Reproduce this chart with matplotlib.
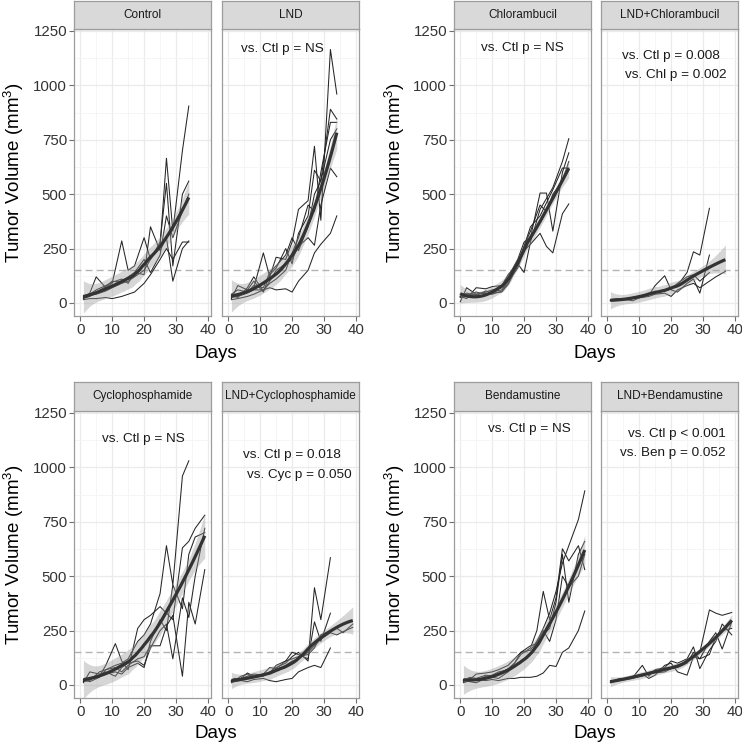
import matplotlib
matplotlib.use('Agg')
import matplotlib.pyplot as plt
import numpy as np

plt.rcParams['font.family'] = ['Liberation Sans', 'DejaVu Sans']
plt.rcParams['mathtext.default'] = 'regular'

# tumour volumes per mouse
control_days = [1, 3, 5, 8, 10, 13, 15, 17, 20, 22, 25, 27, 29, 32, 34]
control_vol = [
    [25, 35, 40, 55, 70, 90, 100, 120, 150, 200, 260, 665, 330, 700, 905],
    [30, 45, 120, 70, 90, 285, 150, 170, 300, 200, 280, 550, 170, 500, 560],
    [20, 30, 50, 75, 100, 95, 120, 140, 130, 350, 240, 300, 100, 250, 285],
    [15, 20, 20, 25, 20, 30, 40, 50, 90, 130, 200, 250, 200, 280, 280],
    [35, 40, 60, 80, 95, 110, 90, 140, 200, 140, 220, 400, 300, 420, 500],
]

lnd_days = [1, 3, 6, 8, 11, 13, 15, 18, 20, 22, 25, 27, 29, 32, 34]
lnd_vol = [
    [30, 40, 55, 70, 230, 120, 210, 200, 280, 430, 470, 720, 380, 1165, 960],
    [20, 80, 60, 100, 50, 130, 160, 250, 180, 320, 400, 610, 560, 890, 845],
    [25, 30, 45, 60, 60, 90, 110, 150, 230, 300, 450, 420, 600, 830, 830],
    [35, 25, 70, 120, 55, 100, 150, 180, 200, 260, 300, 265, 450, 620, 580],
    [15, 20, 30, 40, 60, 70, 60, 65, 50, 100, 150, 230, 270, 320, 400],
    [40, 60, 50, 80, 70, 140, 170, 220, 300, 240, 350, 500, 560, 750, 800],
]

chl_days = [0, 2, 5, 8, 10, 13, 15, 18, 20, 22, 25, 27, 29, 32, 34]
chl_vol = [
    [5, 70, 40, 50, 60, 70, 120, 200, 280, 300, 505, 505, 330, 600, 690],
    [30, 20, 70, 65, 75, 80, 130, 180, 140, 280, 430, 480, 530, 650, 755],
    [40, 35, 50, 40, 50, 60, 100, 160, 240, 270, 320, 260, 230, 410, 455],
    [25, 30, 40, 45, 40, 55, 90, 190, 260, 350, 400, 460, 520, 620, 620],
    [30, 45, 35, 55, 45, 50, 85, 170, 260, 330, 450, 420, 500, 560, 650],
]

lndchl_days = [1, 3, 6, 8, 11, 13, 15, 18, 20, 22, 25, 27, 29, 32, 34, 37]
lndchl_vol = [
    [10, 15, 20, 25, 30, 40, 45, 60, 70, 80, 140, 235, 220, 435],
    [15, 20, 15, 10, 30, 35, 80, 125, 60, 50, 90, 110, 45, 220],
    [10, 12, 15, 20, 25, 30, 40, 45, 30, 60, 80, 90, 70, 100, 120, 145],
    [12, 18, 20, 25, 35, 40, 50, 55, 65, 90, 120, 130, 100, 140],
]

cyc_days = [1, 3, 6, 8, 11, 13, 15, 18, 20, 22, 25, 27, 29, 32, 34, 36, 39]
cyc_vol = [
    [15, 20, 60, 70, 90, 100, 120, 200, 230, 280, 420, 640, 460, 960, 1030],
    [20, 25, 40, 90, 190, 110, 70, 260, 300, 320, 360, 330, 300, 630, 660, 720, 780],
    [10, 60, 50, 60, 40, 80, 100, 110, 90, 170, 250, 280, 120, 400, 310, 500, 720],
    [25, 15, 35, 70, 80, 60, 90, 120, 130, 180, 180, 270, 320, 40, 380, 280, 530],
    [15, 30, 40, 50, 60, 50, 80, 100, 80, 200, 300, 250, 460, 350, 600, 680, 700],
]

lndcyc_days = [1, 2, 4, 6, 8, 11, 13, 15, 18, 20, 22, 25, 27, 29, 32, 34, 36, 39]
lndcyc_vol = [
    [15, 20, 40, 50, 35, 40, 60, 80, 100, 130, 150, 110, 447, 300, 585],
    [20, 30, 25, 35, 40, 50, 80, 75, 110, 150, 140, 120, 290, 200, 330],
    [10, 15, 20, 15, 25, 30, 20, 15, 25, 30, 60, 80, 90, 80, 170],
    [15, 25, 30, 55, 40, 45, 60, 70, 90, 110, 120, 150, 180, 210, 240, 230, 245, 265],
    [20, 20, 30, 40, 50, 45, 55, 90, 110, 120, 130, 140, 170, 230, 250, 260, 240, 280],
]

ben_days = [1, 3, 5, 8, 10, 12, 15, 17, 19, 22, 24, 26, 28, 30, 32, 34, 37, 39]
ben_vol = [
    [20, 25, 50, 55, 60, 70, 90, 120, 150, 160, 200, 260, 330, 430, 560, 640, 760, 892],
    [15, 30, 20, 40, 45, 60, 70, 100, 140, 170, 250, 430, 300, 400, 626, 570, 640, 530],
    [25, 15, 10, 30, 35, 30, 60, 90, 110, 140, 200, 230, 260, 380, 600, 380, 600, 660],
    [10, 20, 25, 20, 25, 20, 30, 30, 35, 35, 40, 55, 90, 85, 150, 170, 250, 340],
    [20, 35, 30, 45, 40, 50, 75, 100, 150, 180, 190, 250, 200, 300, 500, 450, 500, 600],
]

lndben_days = [1, 2, 4, 6, 8, 11, 13, 15, 18, 20, 22, 25, 27, 29, 32, 34, 36, 39]
lndben_vol = [
    [15, 20, 25, 30, 35, 40, 55, 60, 70, 80, 90, 110, 130, 150, 345, 330, 320, 333],
    [10, 15, 20, 25, 35, 90, 40, 70, 80, 110, 100, 120, 175, 75, 160, 200, 280, 230],
    [20, 18, 25, 28, 40, 50, 30, 45, 90, 100, 60, 45, 130, 120, 200, 240, 165, 290],
    [12, 20, 30, 25, 30, 45, 50, 55, 60, 75, 80, 100, 150, 120, 140, 220, 250, 260],
]

titles = ['Control', 'LND', 'Chlorambucil', 'LND+Chlorambucil',
          'Cyclophosphamide', 'LND+Cyclophosphamide', 'Bendamustine', 'LND+Bendamustine']
all_days = [control_days, lnd_days, chl_days, lndchl_days,
            cyc_days, lndcyc_days, ben_days, lndben_days]
all_vol = [control_vol, lnd_vol, chl_vol, lndchl_vol,
           cyc_vol, lndcyc_vol, ben_vol, lndben_vol]

# p-value notes: (text, day, volume) per facet
notes = [
    [],
    [('vs. Ctl p = NS', 16.9, 1167)],
    [('vs. Ctl p = NS', 19.4, 1172)],
    [('vs. Ctl p = 0.008', 20.1, 1135), ('vs. Chl p = 0.002', 21.4, 1048)],
    [('vs. Ctl p = NS', 19.8, 1131)],
    [('vs. Ctl p = 0.018', 19.9, 1058), ('vs. Cyc p = 0.050', 22.4, 966)],
    [('vs. Ctl p = NS', 21.5, 1175)],
    [('vs. Ctl p < 0.001', 21.7, 1154), ('vs. Ben p = 0.052', 20.6, 1067)],
]


def loess(x, y, xs, span=0.75):
    # local quadratic fit with tricube weights, like R's loess
    x = np.asarray(x, float)
    y = np.asarray(y, float)
    n = len(x)
    q = int(np.floor(n * span))

    def row(x0):
        d = np.abs(x - x0)
        h = np.sort(d)[q - 1] * 1.0001
        w = np.clip(1 - (d / h) ** 3, 0, None) ** 3
        X = np.column_stack([np.ones(n), x - x0, (x - x0) ** 2])
        XtW = X.T * w
        return np.linalg.solve(XtW @ X, XtW)[0]

    L = np.array([row(xi) for xi in x])
    res = y - L @ y
    IL = np.eye(n) - L
    sigma = np.sqrt(res @ res / np.trace(IL.T @ IL))
    Ls = np.array([row(x0) for x0 in xs])
    return Ls @ y, sigma * np.sqrt((Ls ** 2).sum(1))


W, H = 742, 745
fig = plt.figure(figsize=(W / 100, H / 100), dpi=100)

cols = [(74, 211), (222, 359), (454, 591), (601, 738)]
rows = [(29, 316), (411, 698)]
strips = [(1, 29), (382, 411)]
border = '#9c9c9c'


def add_px(l, t, r, b):
    return fig.add_axes([l / W, 1 - b / H, (r - l) / W, (b - t) / H])


for i in range(8):
    r = i // 4
    c = i % 4
    l, rr = cols[c]
    t, b = rows[r]
    ax = add_px(l, t, rr, b)
    days = all_days[i]

    xs_all, ys_all = [], []
    for vol in all_vol[i]:
        d = days[:len(vol)]
        ax.plot(d, vol, color='#262626', lw=0.75, zorder=2)
        xs_all += d
        ys_all += vol

    xs = np.linspace(min(xs_all), max(xs_all), 80)
    fit, se = loess(xs_all, ys_all, xs)
    ax.fill_between(xs, fit - 1.97 * se, fit + 1.97 * se, color='#999999',
                    alpha=0.4, lw=0, zorder=3)
    ax.plot(xs, fit, color='#333333', lw=2.3, zorder=4, solid_capstyle='butt')
    ax.axhline(150, color='#b3b3b3', lw=1.0, ls=(0, (5, 3)), zorder=1.5)

    for txt, tx, ty in notes[i]:
        ax.text(tx, ty, txt, ha='center', va='center', fontsize=9.7,
                color='#1a1a1a', zorder=5)

    ax.set_xlim(-1.95, 40.95)
    ax.set_ylim(-60, 1259)
    ax.set_xticks([0, 10, 20, 30, 40])
    ax.set_xticks([5, 15, 25, 35], minor=True)
    ax.set_yticks([0, 250, 500, 750, 1000, 1250])
    ax.set_yticks([125, 375, 625, 875, 1125], minor=True)
    ax.grid(which='major', color='#ebebeb', lw=0.9)
    ax.grid(which='minor', color='#f4f4f4', lw=0.6)
    ax.set_axisbelow(True)
    for s in ax.spines.values():
        s.set_color(border)
        s.set_linewidth(0.9)
    ax.tick_params(which='major', direction='out', length=3.5, width=0.8,
                   color='#6e6e6e', labelsize=10.8, labelcolor='#333333', pad=1.5)
    ax.tick_params(which='minor', length=0)
    if c % 2 == 1:
        ax.tick_params(axis='y', which='major', length=0, labelleft=False)

    st, sb = strips[r]
    sax = add_px(l, st, rr, sb)
    sax.set_facecolor('#d9d9d9')
    sax.set_xticks([])
    sax.set_yticks([])
    for s in sax.spines.values():
        s.set_color(border)
        s.set_linewidth(0.9)
    sax.text(0.5, 0.5, titles[i], ha='center', va='center', fontsize=8.5,
             color='#1a1a1a', transform=sax.transAxes)

# axis titles for each pair of facets
for yc, yd in [(172.5, 353), (554.5, 733)]:
    for xl, xd in [(14, 216), (395, 595)]:
        fig.text(xl / W, 1 - yc / H, 'Tumor Volume (mm$^3$)', rotation=90,
                 ha='center', va='center', fontsize=13.5)
        fig.text(xd / W, 1 - yd / H, 'Days', ha='center', va='center',
                 fontsize=13.5)

fig.savefig('out.png', dpi=100)
